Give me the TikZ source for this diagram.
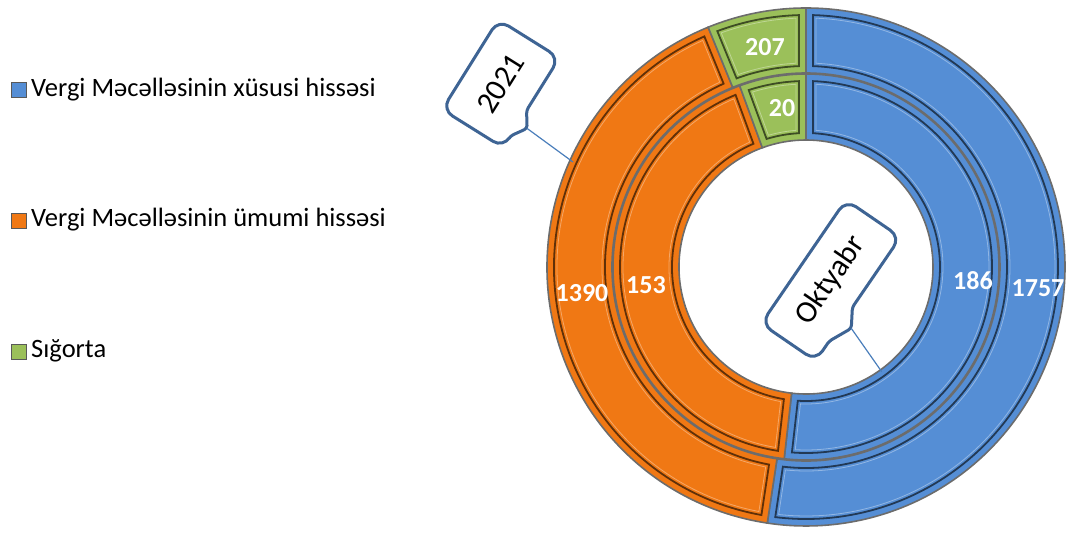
\documentclass[tikz,border=0pt]{standalone}
\usepackage{fontspec}
\setmainfont{Carlito}
\definecolor{segblue}{RGB}{85,142,213}
\definecolor{segorange}{RGB}{240,120,20}
\definecolor{seggreen}{RGB}{155,192,90}
\definecolor{callblue}{RGB}{62,100,148}
\definecolor{leadblue}{RGB}{74,126,187}
\tikzstyle{val}=[text=white,font=\fontsize{26}{30}\selectfont\bfseries]
\tikzstyle{leg}=[anchor=base west,inner sep=0,font=\fontsize{26.5}{30}\selectfont]
\tikzstyle{mk}=[draw=gray!70!black,line width=1.8,minimum size=15,inner sep=0]
\tikzstyle{callbox}=[draw=callblue,line width=3,fill=white,rounded corners=12]
\tikzstyle{calltxt}=[font=\fontsize{31}{36}\selectfont]
\tikzstyle{lead}=[leadblue,line width=1.2]

% ring piece: colour, inner radius, outer radius, from angle, to angle
\newcommand\seg[5]{%
  \pgfmathsetmacro\segro{#3-7}%
  \pgfmathsetmacro\segri{#2+7}%
  \pgfmathsetmacro\segdo{7/\segro*57.3}%
  \pgfmathsetmacro\segdi{7/\segri*57.3}%
  \pgfmathsetmacro\segrp{#3-10}%
  \pgfmathsetmacro\segrq{#2+10}%
  \pgfmathsetmacro\segdp{10/\segrp*57.3}%
  \pgfmathsetmacro\segdq{10/\segrq*57.3}%
  \fill[#1] (#4:#3) arc[start angle=#4,end angle=#5,radius=#3] -- (#5:#2) arc[start angle=#5,end angle=#4,radius=#2] -- cycle;
  \draw[#1!40!black,line width=1.8] ({#4-\segdo}:\segro) arc[start angle={#4-\segdo},end angle={#5+\segdo},radius=\segro] -- ({#5+\segdi}:\segri) arc[start angle={#5+\segdi},end angle={#4-\segdi},radius=\segri] -- cycle;
  \draw[#1!65!white,line width=0.8] ({#4-\segdp}:\segrp) arc[start angle={#4-\segdp},end angle={#5+\segdp},radius=\segrp] -- ({#5+\segdq}:\segrq) arc[start angle={#5+\segdq},end angle={#4-\segdq},radius=\segrq] -- cycle;
  \draw[gray!85!black,line width=1.6] (#4:#3) arc[start angle=#4,end angle=#5,radius=#3] -- (#5:#2) arc[start angle=#5,end angle=#4,radius=#2] -- cycle;
}

\begin{document}
\begin{tikzpicture}[x=1pt,y=1pt]
\useasboundingbox (0,0) rectangle (1071,533);

\begin{scope}[shift={(806,266)}]
\seg{segblue}{194}{259}{90}{-98.6}
\seg{segorange}{194}{259}{-98.6}{-247.8}
\seg{seggreen}{194}{259}{-247.8}{-270}
\seg{segblue}{127}{193}{90}{-96.5}
\seg{segorange}{127}{193}{-96.5}{-249.9}
\seg{seggreen}{127}{193}{-249.9}{-270}
\end{scope}

\node[val] (v1757) at (1038,245) {1757};
\node[val] (v1390) at (582,240) {1390};
\node[val] (v207) at (765,486) {207};
\node[val] (v186) at (973,252) {186};
\node[val] (v153) at (646,248) {153};
\node[val] (v20) at (782,425) {20};

\node[mk,fill=segblue] (mk1) at (19,443) {};
\node[leg] (leg1) at (31,436) {Vergi Məcəlləsinin xüsusi hissəsi};
\node[mk,fill=segorange] (mk2) at (19,312) {};
\node[leg] (leg2) at (31,306) {Vergi Məcəlləsinin ümumi hissəsi};
\node[mk,fill=seggreen] (mk3) at (19,181) {};
\node[leg] (leg3) at (31,175) {Sığorta};

\begin{scope}[shift={(500.8,449.3)},rotate=58]
\draw[callbox] (0,36) -- (-53,36) -- (-53,-36) [rounded corners=3]-- (-39,-36) -- (-24,-46) -- (-9,-36) [rounded corners=12]-- (53,-36) -- (53,36) -- cycle;
\node[calltxt,rotate=58] (c2021) at (0,0) {2021};
\coordinate (tip2021) at (-24,-46);
\end{scope}
\coordinate (end2021) at (573,371);
\draw[lead] (tip2021) -- (end2021);

\begin{scope}[shift={(830.8,252.6)},rotate=55.6]
\draw[callbox] (0,33) -- (-75,33) -- (-75,-33) [rounded corners=3]-- (-51,-33) -- (-28,-44) -- (-10,-33) [rounded corners=12]-- (75,-33) -- (75,33) -- cycle;
\node[calltxt,rotate=55.6] (cokt) at (0,0) {Oktyabr};
\coordinate (tipokt) at (-28,-44);
\end{scope}
\coordinate (endokt) at (881.7,161.3);
\draw[lead] (tipokt) -- (endokt);
\end{tikzpicture}
\end{document}
